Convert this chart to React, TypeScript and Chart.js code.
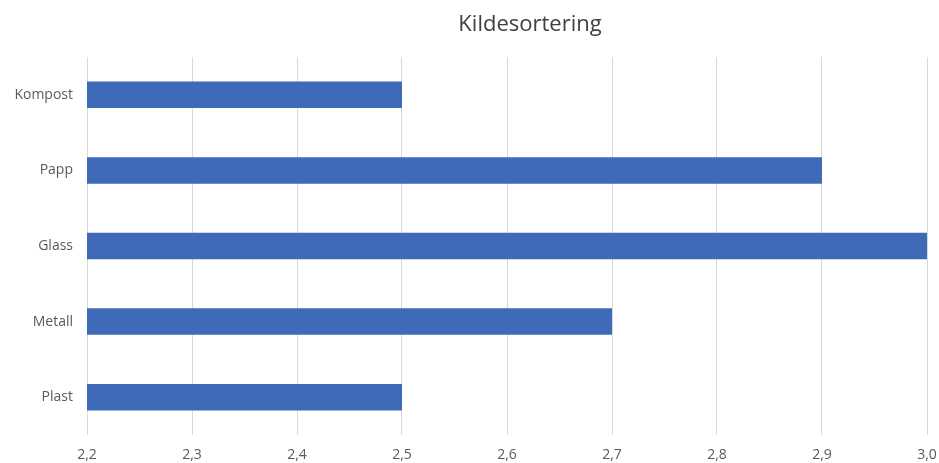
import React, { useEffect, useRef } from "react";
import { Chart, registerables } from "chart.js";

Chart.register(...registerables);

const categories = ["Kompost", "Papp", "Glass", "Metall", "Plast"];
const values = [2.5, 2.9, 3.0, 2.7, 2.5];
const xTickMin = 2.2;
const xTickMax = 3.0;
const xTickStep = 0.1;
const titleText = "Kildesortering";

const titlePlugin = {
  id: "customTitle",
  afterDraw(chart: any) {
    const { ctx, chartArea } = chart;
    ctx.save();
    ctx.font = "22px 'Open Sans', sans-serif";
    ctx.fillStyle = "#404040";
    ctx.textAlign = "center";
    ctx.textBaseline = "middle";
    ctx.fillText(titleText, (chartArea.left + chartArea.right) / 2 + 23, 25);
    ctx.restore();
  },
};

export default function App() {
  const ref = useRef<HTMLCanvasElement | null>(null);
  useEffect(() => {
    document.body.style.margin = "0";
    const chart = new Chart(ref.current!, {
      type: "bar",
      data: {
        labels: categories,
        datasets: [
          {
            data: values,
            backgroundColor: "#3F6AB8",
            borderWidth: 0,
            barPercentage: 0.35,
            categoryPercentage: 1,
          },
        ],
      },
      options: {
        indexAxis: "y",
        animation: false,
        responsive: false,
        maintainAspectRatio: false,
        layout: { padding: { top: 57, right: 12, left: 0, bottom: 0 } },
        plugins: {
          legend: { display: false },
          title: { display: false },
          tooltip: { enabled: false },
        },
        scales: {
          x: {
            min: xTickMin,
            max: xTickMax,
            ticks: {
              stepSize: xTickStep,
              padding: 12,
              color: "#595959",
              font: { family: "'Open Sans', sans-serif", size: 14 },
              callback: (v: any) => Number(v).toFixed(1).replace(".", ","),
            },
            grid: { color: "#d9d9d9", lineWidth: 1, drawTicks: false },
            border: { display: false },
            afterFit: (s: any) => {
              s.height = 28;
              s.paddingRight = 0;
              s.paddingLeft = 0;
            },
          },
          y: {
            ticks: {
              padding: 14,
              color: "#595959",
              font: { family: "'Open Sans', sans-serif", size: 14 },
            },
            grid: { display: false, drawTicks: false },
            border: { display: false },
            afterFit: (s: any) => {
              s.width = 87;
            },
          },
        },
      },
      plugins: [titlePlugin],
    });
    return () => chart.destroy();
  }, []);
  return (
    <div style={{ width: 939, height: 463 }}>
      <canvas ref={ref} width={939} height={463} style={{ display: "block" }} />
    </div>
  );
}
